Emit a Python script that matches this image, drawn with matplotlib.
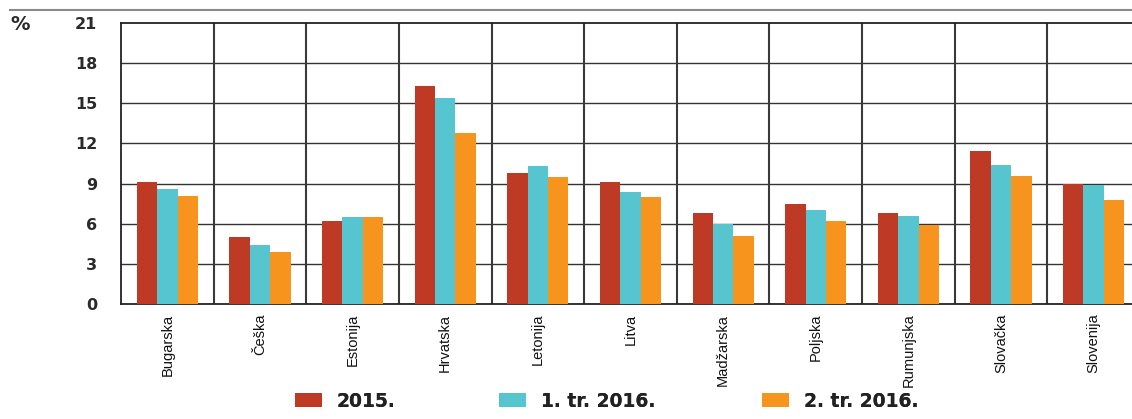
import numpy as np
import matplotlib
matplotlib.use('Agg')
import matplotlib.pyplot as plt
from matplotlib.lines import Line2D
from matplotlib.patches import Patch

plt.rcParams['font.family'] = ['Liberation Sans', 'DejaVu Sans']

countries = ['Bugarska', 'Češka', 'Estonija', 'Hrvatska', 'Letonija', 'Litva',
             'Madžarska', 'Poljska', 'Rumunjska', 'Slovačka', 'Slovenija']
y2015 = [9.1, 5.0, 6.2, 16.3, 9.8, 9.1, 6.8, 7.5, 6.8, 11.4, 9.0]
q1_2016 = [8.6, 4.4, 6.5, 15.4, 10.3, 8.4, 6.0, 7.0, 6.6, 10.4, 8.9]
q2_2016 = [8.1, 3.9, 6.5, 12.8, 9.5, 8.0, 5.1, 6.2, 5.9, 9.6, 7.8]
series_labels = ['2015.', '1. tr. 2016.', '2. tr. 2016.']
colors = ['#BE3A24', '#56C5D0', '#F7941D']
yticks = [0, 3, 6, 9, 12, 15, 18, 21]

W, H = 1132, 419
fig = plt.figure(figsize=(W / 100, H / 100), dpi=100)
ax = fig.add_axes([121 / W, 1 - 304 / H, 1019 / W, 281 / H])

x = np.arange(len(countries))
bw = 0.22
for i, vals in enumerate([y2015, q1_2016, q2_2016]):
    ax.bar(x + (i - 1) * bw, vals, width=bw, color=colors[i], zorder=3)

ax.set_ylim(0, 21)
ax.set_xlim(-0.5, len(countries) - 0.5)
ax.set_yticks(yticks)
ax.set_yticklabels([str(t) for t in yticks], fontsize=11.5, family='DejaVu Sans',
                   fontweight='bold', color='#2a2a2a')
ax.tick_params(axis='y', length=0, pad=17)
ax.set_xticks(x)
ax.set_xticklabels(countries, rotation=90, fontsize=10.5, color='#111',
                   va='top', ha='center')
ax.tick_params(axis='x', length=0, pad=7)

for t in yticks[1:-1]:
    ax.axhline(t, color='#333333', lw=1.0, zorder=1)
for b in np.arange(0.5, len(countries) - 1, 1.0):
    ax.axvline(b, color='#3a3a3a', lw=1.5, zorder=1)

ax.spines['right'].set_visible(False)
for s in ['top', 'left', 'bottom']:
    ax.spines[s].set_color('#222')
    ax.spines[s].set_linewidth(1.3)

# thin rule above the chart
fig.add_artist(Line2D([10 / W, 1.0], [1 - 10 / H, 1 - 10 / H],
                      color='#8a8a8a', lw=1.5, transform=fig.transFigure))
fig.text(10 / W, 1 - 24 / H, '%', fontsize=14, family='DejaVu Sans',
         fontweight='bold', color='#2a2a2a', va='center', ha='left')

# one legend per entry so the spacing follows the reference
leg_x = [295, 499, 762]
for c, lab, lx in zip(colors, series_labels, leg_x):
    lg = fig.legend([Patch(facecolor=c, edgecolor='none')], [lab], loc='center left',
                    bbox_to_anchor=(lx / W, 1 - 401 / H), frameon=False,
                    borderpad=0, borderaxespad=0,
                    prop={'family': 'DejaVu Sans', 'weight': 'bold', 'size': 13.5},
                    handlelength=1.44, handleheight=0.75, handletextpad=0.8)
    for t in lg.get_texts():
        t.set_color('#222')
    fig.add_artist(lg)

fig.savefig('out.png', dpi=100)
